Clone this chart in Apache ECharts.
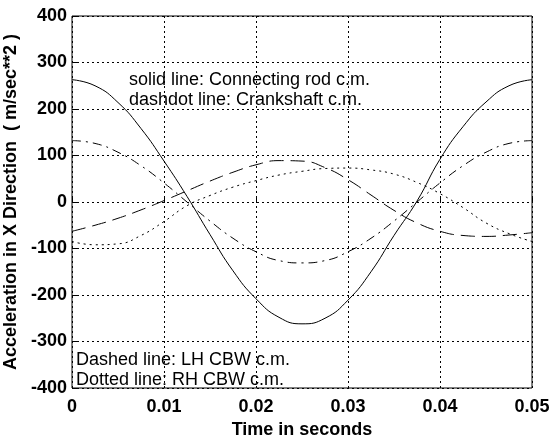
<!DOCTYPE html>
<html>
<head>
<meta charset="utf-8">
<script src="https://cdn.jsdelivr.net/npm/echarts@6/dist/echarts.min.js"></script>
<style>
html,body{margin:0;padding:0;background:#fff;}
#main{width:553px;height:440px;}
</style>
</head>
<body>
<div id="main"></div>
<script>
// time samples (s)
var times = [0,0.0025,0.005,0.0075,0.01,0.0125,0.015,0.0175,0.02,0.0225,0.025,
             0.0275,0.03,0.0325,0.035,0.0375,0.04,0.0425,0.045,0.0475,0.05];
// connecting rod c.m. (solid)
var rodAcc = [263,250,214,158,88,12,-70,-148,-208,-248,-262,-250,-211,-150,-72,2,92,162,215,250,263];
// crankshaft c.m. (dashdot)
var crankAcc = [132,126,107,78,41,0,-41,-78,-107,-126,-131,-126,-107,-78,-41,0,41,78,107,126,132];
// LH CBW c.m. (dashed)
var lhAcc = [-63,-50,-35,-17,3,24,45,64,80,89,88,74,48,15,-18,-45,-63,-72,-74,-71,-66];
// RH CBW c.m. (dotted)
var rhAcc = [-85,-92,-90,-72,-42,-8,14,32,46,58,66,72,73,69,60,42,18,-12,-45,-68,-85];

var xTicks = ['0','0.01','0.02','0.03','0.04','0.05'];

function pairs(vals){
    var out = [];
    for(var i=0;i<times.length;i++){ out.push([times[i], vals[i]]); }
    return out;
}

var chart = echarts.init(document.getElementById('main'));
var lbl = {color:'#000', fontFamily:'Liberation Sans', fontWeight:'bold', fontSize:18};

var option = {
    animation:false,
    backgroundColor:'#fff',
    grid:{left:72, right:21, top:16, bottom:52, show:true, borderColor:'#000', borderWidth:1,
          containLabel:false, outerBoundsMode:'none'},
    xAxis:{
        type:'value', min:0, max:0.05, interval:0.01,
        name:'Time in seconds', nameLocation:'middle', nameGap:31,
        nameTextStyle:{color:'#000', fontFamily:'Liberation Sans', fontWeight:'bold', fontSize:18},
        axisLine:{show:false},
        axisTick:{inside:true, length:5, lineStyle:{color:'#000'}},
        axisLabel:Object.assign({margin:10, formatter:function(v){ return xTicks[Math.round(v*100)]; }}, lbl),
        splitLine:{show:true, lineStyle:{color:'#000', type:[2,3], width:1}}
    },
    yAxis:{
        type:'value', min:-400, max:400, interval:100,
        name:'Acceleration in X Direction  ( m/sec**2 )', nameLocation:'middle', nameGap:43,
        nameTextStyle:{color:'#000', fontFamily:'Liberation Sans', fontWeight:'bold', fontSize:18},
        axisLine:{show:false},
        axisTick:{inside:true, length:5, lineStyle:{color:'#000'}},
        axisLabel:Object.assign({margin:5}, lbl),
        splitLine:{show:true, lineStyle:{color:'#000', type:[2,3], width:1}}
    },
    series:[
        {name:'Connecting rod', type:'line', smooth:true, showSymbol:false, data:pairs(rodAcc),
         lineStyle:{color:'#000', width:1, type:'solid'}},
        {name:'Crankshaft', type:'line', smooth:true, showSymbol:false, data:pairs(crankAcc),
         lineStyle:{color:'#000', width:1, type:[9,5,2,5]}},
        {name:'LH CBW', type:'line', smooth:true, showSymbol:false, data:pairs(lhAcc),
         lineStyle:{color:'#000', width:1, type:[14,7]}},
        {name:'RH CBW', type:'line', smooth:true, showSymbol:false, data:pairs(rhAcc),
         lineStyle:{color:'#000', width:1, type:[2,4]}}
    ],
    graphic:[
        {type:'text', left:129, top:71, style:{text:'solid line: Connecting rod c.m.', fill:'#000', font:'18px "Liberation Sans"'}},
        {type:'text', left:129, top:91, style:{text:'dashdot line: Crankshaft c.m.', fill:'#000', font:'18px "Liberation Sans"'}},
        {type:'text', left:76, top:351, style:{text:'Dashed line: LH CBW c.m.', fill:'#000', font:'18px "Liberation Sans"'}},
        {type:'text', left:76, top:371, style:{text:'Dotted line: RH CBW c.m.', fill:'#000', font:'18px "Liberation Sans"'}}
    ]
};
chart.setOption(option);
</script>
</body>
</html>
